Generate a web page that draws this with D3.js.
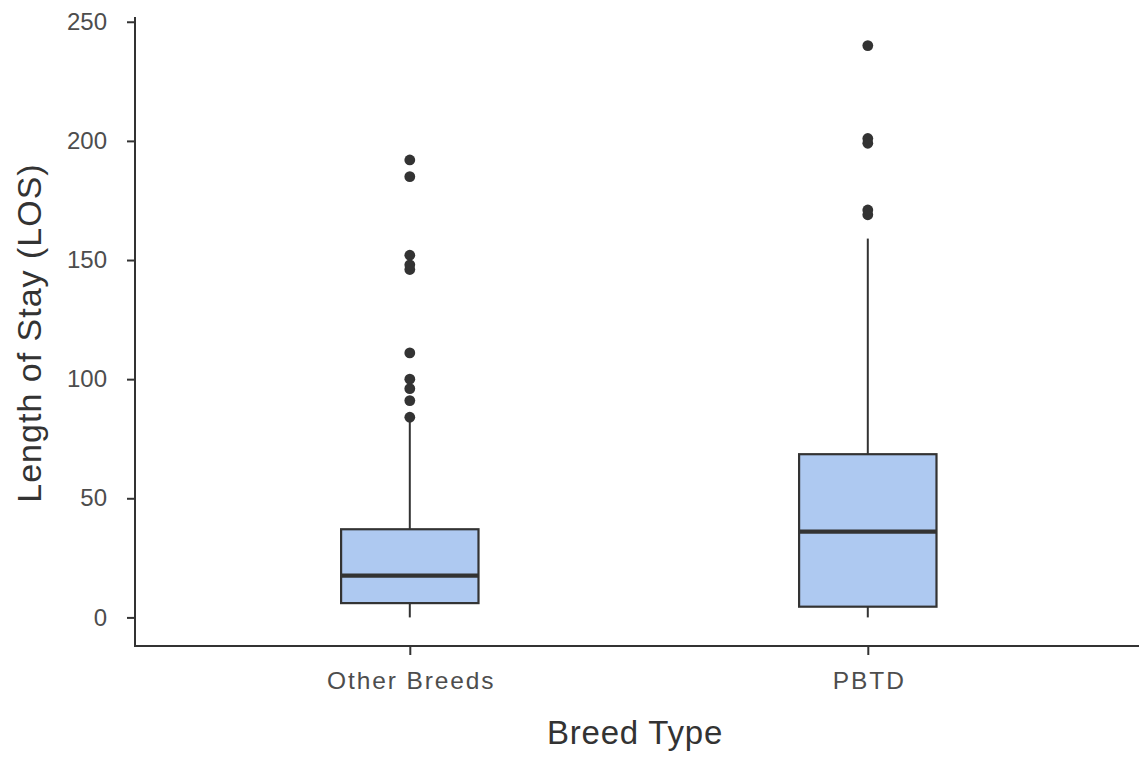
<!DOCTYPE html>
<html>
<head>
<meta charset="utf-8">
<script src="https://cdn.jsdelivr.net/npm/d3@7"></script>
<style>
  html, body { margin: 0; padding: 0; background: #ffffff; }
  svg { display: block; font-family: "Liberation Sans", Arial, sans-serif; }
</style>
</head>
<body>
<svg id="chart" width="1139" height="757"></svg>
<script>
// ---- data ----
const categories = ["Other Breeds", "PBTD"];
const q1Values = [6, 4.5];
const medianValues = [17.5, 36];
const q3Values = [37, 68.5];
const whiskerLow = [0, 0];
const whiskerHigh = [83, 159];
const outliers = [
  [84, 91, 96, 100, 111, 146, 148, 152, 185, 192],
  [169, 171, 199, 201, 240]
];
const yTicks = [0, 50, 100, 150, 200, 250];
const xTitle = "Breed Type";
const yTitle = "Length of Stay (LOS)";

// ---- layout ----
const svg = d3.select("#chart");
const panel = { left: 135, right: 1142.6, top: 17, bottom: 646 };

const x = d3.scalePoint().domain(categories).range([panel.left, panel.right]).padding(0.6);
const y = d3.scaleLinear().domain([-12, 252]).range([panel.bottom, panel.top]);
const boxW = x.step() * 0.3;

const boxes = categories.map((c, i) => ({
  cat: c, q1: q1Values[i], med: medianValues[i], q3: q3Values[i],
  lo: whiskerLow[i], hi: whiskerHigh[i], out: outliers[i]
}));

const ink = "#333333";
const g = svg.append("g");

// whiskers
g.selectAll(".wh-up").data(boxes).join("line")
  .attr("x1", d => x(d.cat)).attr("x2", d => x(d.cat))
  .attr("y1", d => y(d.q3)).attr("y2", d => y(d.hi))
  .attr("stroke", ink).attr("stroke-width", 2);
g.selectAll(".wh-lo").data(boxes).join("line")
  .attr("x1", d => x(d.cat)).attr("x2", d => x(d.cat))
  .attr("y1", d => y(d.q1)).attr("y2", d => y(d.lo))
  .attr("stroke", ink).attr("stroke-width", 2);

// boxes
g.selectAll(".box").data(boxes).join("rect")
  .attr("x", d => x(d.cat) - boxW / 2)
  .attr("width", boxW)
  .attr("y", d => y(d.q3))
  .attr("height", d => y(d.q1) - y(d.q3))
  .attr("fill", "#aec9f1")
  .attr("stroke", ink).attr("stroke-width", 2.2);

// medians
g.selectAll(".med").data(boxes).join("line")
  .attr("x1", d => x(d.cat) - boxW / 2).attr("x2", d => x(d.cat) + boxW / 2)
  .attr("y1", d => y(d.med)).attr("y2", d => y(d.med))
  .attr("stroke", ink).attr("stroke-width", 4.2);

// outliers
boxes.forEach(d => {
  g.selectAll(null).data(d.out).join("circle")
    .attr("cx", x(d.cat)).attr("cy", v => y(v))
    .attr("r", 5.4).attr("fill", ink);
});

// y axis
const yAxis = svg.append("g")
  .attr("transform", `translate(${panel.left},0)`)
  .call(d3.axisLeft(y).tickValues(yTicks).tickSize(8).tickPadding(20).tickSizeOuter(0));
yAxis.select(".domain").attr("stroke", ink).attr("stroke-width", 2)
  .attr("d", `M0,${panel.top}V${panel.bottom}`);
yAxis.selectAll(".tick line").attr("stroke", ink).attr("stroke-width", 2);
yAxis.selectAll(".tick text")
  .attr("fill", "#4d4d4d").attr("font-size", 24)
  .attr("font-family", "'Liberation Sans', Arial, sans-serif");

// x axis
const xAxis = svg.append("g")
  .attr("transform", `translate(0,${panel.bottom})`)
  .call(d3.axisBottom(x).tickSize(9).tickPadding(0).tickSizeOuter(0));
xAxis.select(".domain").attr("stroke", ink).attr("stroke-width", 2)
  .attr("d", `M${panel.left - 1},0H${panel.right}`);
xAxis.selectAll(".tick line").attr("stroke", ink).attr("stroke-width", 2);
xAxis.selectAll(".tick text")
  .attr("fill", "#4d4d4d").attr("font-size", 24.5)
  .attr("font-family", "'Liberation Sans', Arial, sans-serif")
  .attr("letter-spacing", "1.9px")
  .attr("dy", 0).attr("y", 43)
  .attr("dx", "0.95px");

// axis titles
svg.append("text")
  .attr("x", (panel.left + 1135) / 2).attr("y", 744)
  .attr("text-anchor", "middle")
  .attr("font-size", 33).attr("letter-spacing", "0.8px")
  .attr("fill", "#333333")
  .text(xTitle);

svg.append("text")
  .attr("transform", `translate(41,${333}) rotate(-90)`)
  .attr("text-anchor", "middle")
  .attr("font-size", 34).attr("letter-spacing", "1px")
  .attr("fill", "#333333")
  .text(yTitle);
</script>
</body>
</html>
